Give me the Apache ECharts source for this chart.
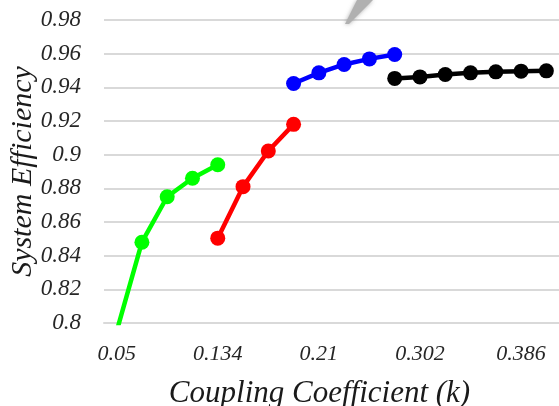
<!DOCTYPE html>
<html>
<head>
<meta charset="utf-8">
<script src="https://cdn.jsdelivr.net/npm/echarts@6/dist/echarts.min.js"></script>
<style>
    html,body{margin:0;padding:0;background:#fff;}
    #chart{width:559px;height:406px;}
</style>
</head>
<body>
<div id="chart"></div>
<script>
// 耦合系数 (只显示每隔4个的标签)
var couplingK = ['0.05','0.071','0.092','0.113','0.134','0.153','0.172','0.191','0.21',
                 '0.233','0.256','0.279','0.302','0.323','0.344','0.365','0.386','0.407'];
// 各段效率数据, null 表示该点不画
var greenEff = [0.795, 0.848, 0.875, 0.886, 0.894, null, null, null, null, null, null, null, null, null, null, null, null, null];
var redEff   = [null, null, null, null, 0.8504, 0.881, 0.9022, 0.918, null, null, null, null, null, null, null, null, null, null];
var blueEff  = [null, null, null, null, null, null, null, 0.9423, 0.9486, 0.9536, 0.9569, 0.9595, null, null, null, null, null, null];
var blackEff = [null, null, null, null, null, null, null, null, null, null, null, 0.9453, 0.9462, 0.9476, 0.9486, 0.9492, 0.9496, 0.9498];
// y轴刻度
var yMin = 0.8, yMax = 0.98, yStep = 0.02;

(function(win){
    var font = '"Liberation Serif", "Times New Roman", serif';
    var chart = echarts.init(document.getElementById('chart'));

    function makeLine(name, color, data){
        return {
            name: name,
            type: 'line',
            data: data,
            symbol: 'circle',
            symbolSize: 15,
            clip: true,
            connectNulls: false,
            lineStyle: {color: color, width: 4.5},
            itemStyle: {color: color},
            emphasis: {disabled: true}
        };
    }

    var option = {
        backgroundColor: '#fff',
        animation: false,
        grid: {left: 104, right: 0, top: 20, bottom: 83, containLabel: false, outerBoundsMode: 'none'},
        //顶部那道灰色的残影
        graphic: [{
            type: 'polygon',
            z: 100,
            shape: {points: [[345, 24], [349, 24], [373, 0], [357, 0]]},
            style: {fill: '#b0b0b0', shadowBlur: 4, shadowColor: 'rgba(120,120,120,0.6)'}
        }],
        xAxis: {
            type: 'category',
            data: couplingK,
            boundaryGap: true,
            name: 'Coupling Coefficient (k)',
            nameLocation: 'middle',
            nameGap: 55,
            nameTextStyle: {fontFamily: font, fontStyle: 'italic', fontSize: 31, color: '#1a1a1a',
                            padding: [0, 24, 0, 0]},
            axisLine: {lineStyle: {color: '#d9d9d9', width: 2}},
            axisTick: {show: false},
            axisLabel: {
                interval: 3,
                margin: 20,
                fontFamily: font, fontStyle: 'italic', fontSize: 22, color: '#262626'
            },
            splitLine: {show: false}
        },
        yAxis: {
            type: 'value',
            min: yMin,
            max: yMax,
            interval: yStep,
            name: 'System Efficiency',
            nameLocation: 'middle',
            nameGap: 66,
            nameMoveOverlap: false,
            nameTextStyle: {fontFamily: font, fontStyle: 'italic', fontSize: 30, color: '#1a1a1a'},
            axisLine: {show: false},
            axisTick: {show: false},
            axisLabel: {
                margin: 23,
                fontFamily: font, fontStyle: 'italic', fontSize: 23, color: '#262626'
            },
            splitLine: {lineStyle: {color: '#d9d9d9', width: 2}}
        },
        series: [
            makeLine('green', '#00ff00', greenEff),
            makeLine('red', '#ff0000', redEff),
            makeLine('blue', '#0000ff', blueEff),
            makeLine('black', '#000000', blackEff)
        ]
    };
    chart.setOption(option);
})(window);
</script>
</body>
</html>
